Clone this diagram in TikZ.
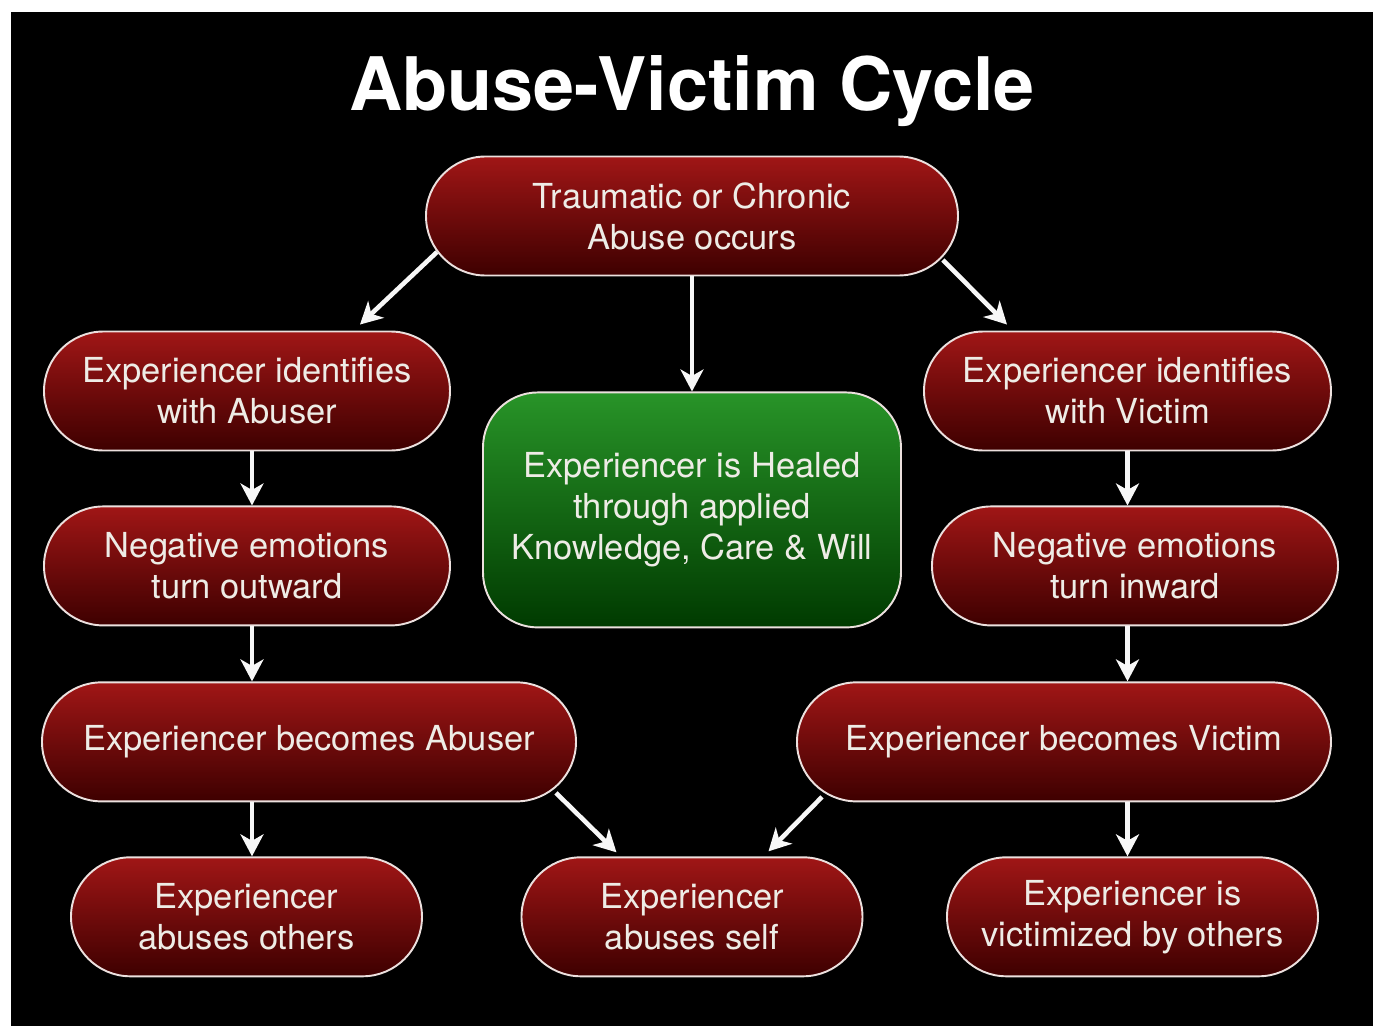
\documentclass[tikz,border=0pt]{standalone}
\usepackage{fontspec}
\setmainfont{TeX Gyre Heros}
\usetikzlibrary{arrows.meta, positioning, calc}

\definecolor{causetop}{RGB}{160,22,22}
\definecolor{causebot}{RGB}{62,0,0}
\definecolor{healtop}{RGB}{40,148,40}
\definecolor{healbot}{RGB}{0,58,0}
\definecolor{rim}{RGB}{236,224,222}
\definecolor{label}{RGB}{238,236,230}

\tikzstyle{cause} = [rectangle, rounded corners=1.19cm, minimum width=8.12cm, minimum height=2.38cm, inner xsep=0pt, align=center, draw=rim, line width=1.1pt, top color=causetop, bottom color=causebot, text=label, font=\fontsize{19.6}{23.3}\selectfont]
\tikzstyle{healed} = [rectangle, rounded corners=1.1cm, minimum width=8.36cm, minimum height=4.7cm, align=center, draw=rim, line width=1.1pt, top color=healtop, bottom color=healbot, text=label, font=\fontsize{19.6}{23.3}\selectfont]
\tikzstyle{arrow} = [draw=white!94!gray, line width=2.6pt, -{Stealth[length=0.44cm, width=0.46cm, inset=0.13cm]}]

\begin{document}
\begin{tikzpicture}[
        node distance=1.1cm
    ]

        % Page and slide background
        \fill[white] (-13.84,4.32) rectangle (13.72,-16.2);
        \fill[black] (-13.62,4.08) rectangle (13.62,-16.2);

        % Title
        \node (title) [anchor=base, text=white, font=\fontsize{42}{48}\selectfont\bfseries] at (0,2.12) {Abuse-Victim Cycle};

        % Cause (Top)
        \node (trauma) [cause, minimum width=10.64cm] at (0,0) {Traumatic or Chronic\\Abuse occurs};
        \node (heal) [healed, below=2.3cm of trauma] {Experiencer is Healed\\through applied\\Knowledge, Care \& Will};

        % Abuser path (Left Column)
        \node (abuserid) [cause] at (-8.9,-3.5) {Experiencer identifies\\with Abuser};
        \node (outward) [cause, below=1.08cm of abuserid] {Negative emotions\\turn outward};
        \node (abuser) [cause, minimum width=10.68cm, below=of outward, xshift=1.24cm] {Experiencer becomes Abuser};
        \node (others) [cause, minimum width=7.02cm, below=1.08cm of abuser, xshift=-1.25cm] {Experiencer\\abuses others};

        % Victim path (Right Column)
        \node (victimid) [cause, minimum width=8.14cm] at (8.71,-3.5) {Experiencer identifies\\with Victim};
        \node (inward) [cause, below=1.08cm of victimid, xshift=0.15cm] {Negative emotions\\turn inward};
        \node (victim) [cause, minimum width=10.68cm, below=of inward, xshift=-1.42cm] {Experiencer becomes Victim};
        \node (victimized) [cause, minimum width=7.42cm, below=1.08cm of victim, xshift=1.37cm] {Experiencer is\\victimized by others};

        % Shared outcome (Bottom Center)
        \node (self) [cause, minimum width=6.82cm] at (trauma |- others) {Experiencer\\abuses self};

        % Arrows: Cause -> paths
        \draw [arrow] ([shift={(0.24cm,-0.72cm)}]trauma.west) -- ([shift={(2.26cm,0.12cm)}]abuserid.north);
        \draw [arrow] (trauma) -- (heal);
        \draw [arrow] ([shift={(-0.32cm,-0.88cm)}]trauma.east) -- ([shift={(-2.41cm,0.12cm)}]victimid.north);

        % Arrows: Left column
        \draw [arrow] ([xshift=0.1cm]abuserid.south) -- ([xshift=0.1cm]abuserid.south |- outward.north);
        \draw [arrow] ([xshift=0.1cm]abuserid.south |- outward.south) -- ([xshift=0.1cm]abuserid.south |- abuser.north);
        \draw [arrow] ([xshift=0.1cm]abuserid.south |- abuser.south) -- ([xshift=0.1cm]abuserid.south |- others.north);

        % Arrows: Right column
        \draw [arrow] (victimid.south) -- (victimid.south |- inward.north);
        \draw [arrow] (victimid.south |- inward.south) -- (victimid.south |- victim.north);
        \draw [arrow] (victimid.south |- victim.south) -- (victimid.south |- victimized.north);

        % Arrows: both paths -> self
        \draw [arrow] ([shift={(-0.42cm,-1.02cm)}]abuser.east) -- ([shift={(-1.51cm,0.08cm)}]self.north);
        \draw [arrow] ([shift={(0.52cm,-1.1cm)}]victim.west) -- ([shift={(1.53cm,0.1cm)}]self.north);

    \end{tikzpicture}
\end{document}
